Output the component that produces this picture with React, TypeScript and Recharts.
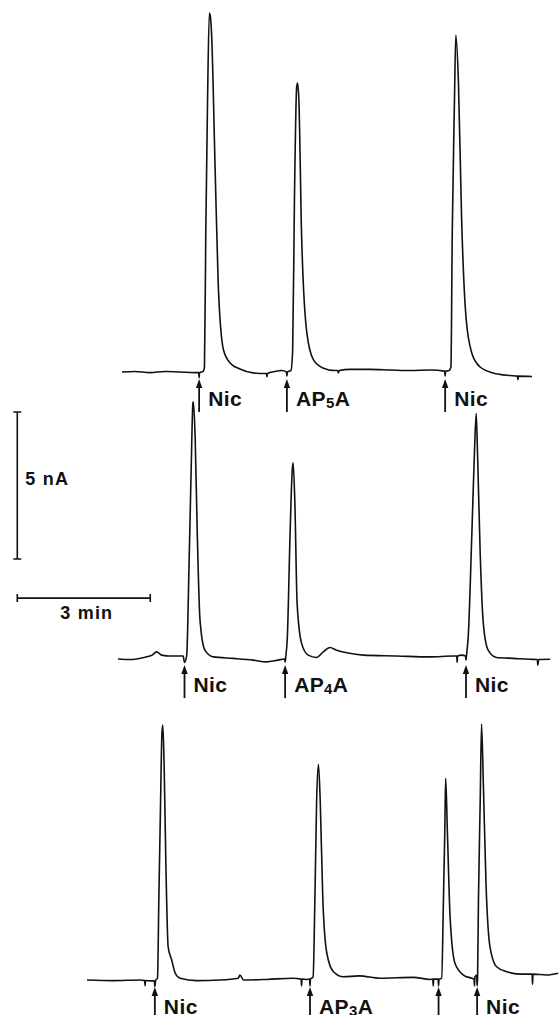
import { ComposedChart, Line, Scatter, XAxis, YAxis } from 'recharts';

const CHART_W = 559;
const CHART_H = 1015;
// recorder calibration: 3 min = 133 px, 5 nA = 147 px
const PX_PER_MIN = 44.33;
const PX_PER_NA = 29.4;

// trace 1: Nic, AP5A, Nic  (time in min from trace start, current in nA above baseline)
const trace1Time = [
  0, 0.29, 0.63, 0.97, 1.31, 1.65, 1.73, 1.74, 1.75, 1.83, 1.86, 1.89, 1.93, 1.97, 1.99, 2.02, 2.1, 2.17,
  2.29, 2.44, 2.66, 2.96, 3.23, 3.26, 3.27, 3.28, 3.45, 3.61, 3.71, 3.72, 3.73, 3.81, 3.85, 3.89, 3.94, 3.96,
  3.99, 4.05, 4.17, 4.32, 4.53, 4.81, 4.87, 4.88, 4.9, 5.14, 5.59, 6.05, 6.5, 6.95, 7.28, 7.29, 7.3, 7.38,
  7.42, 7.45, 7.5, 7.53, 7.59, 7.66, 7.76, 7.89, 8.08, 8.37, 8.75, 8.92, 8.93, 8.94, 9.25,
];
const trace1Current = [
  0, 0.02, -0.02, 0.02, 0, -0.02, -0.02, -0.19, -0.02, 0.02, 0.17, 4.73, 9.25, 12.21, 12.14, 11.53, 6.97, 3.03,
  0.75, 0.31, 0.1, -0.03, -0.05, -0.05, -0.17, -0.05, 0.02, 0.05, 0, -0.14, 0, 0.05, 0.75, 5.85, 9.69, 9.83,
  9.25, 4.73, 1.33, 0.41, 0.14, 0.05, 0.05, -0.03, 0.05, 0.09, 0.09, 0.07, 0.05, 0.07, 0.03, -0.14, 0.03, 0.05,
  0.17, 4.73, 9.25, 11.46, 9.83, 5.27, 1.87, 0.65, 0.17, -0.03, -0.12, -0.14, -0.26, -0.14, -0.15,
];
const trace1EventTime = [1.74, 3.72, 7.29];
const trace1EventLabel = ['Nic', 'AP5A', 'Nic'];

// trace 2: Nic, AP4A, Nic
const trace2Time = [
  0, 0.27, 0.61, 0.77, 0.87, 0.99, 1.17, 1.47, 1.5, 1.55, 1.6, 1.65, 1.69, 1.7, 1.74, 1.79, 1.85, 1.96, 2.15,
  2.6, 3.05, 3.35, 3.61, 3.76, 3.77, 3.78, 3.82, 3.88, 3.93, 3.95, 3.99, 4.04, 4.14, 4.29, 4.48, 4.63, 4.78,
  4.93, 5.16, 5.53, 6.29, 7.04, 7.56, 7.64, 7.65, 7.66, 7.75, 7.84, 7.85, 7.86, 7.9, 7.98, 8.04, 8.08, 8.11,
  8.17, 8.24, 8.35, 8.54, 8.92, 9.29, 9.46, 9.47, 9.49, 9.75,
];
const trace2Current = [
  -0.03, -0.05, 0.03, 0.1, 0.21, 0.1, 0.07, 0.07, -0.15, 0.1, 2.99, 6.39, 8.67, 8.72, 7.52, 4.12, 1.29, 0.27,
  0.04, -0.01, -0.07, -0.13, -0.07, -0.03, -0.14, -0.02, 0.72, 4.13, 6.39, 6.64, 5.27, 1.87, 0.51, 0.1, 0.02,
  0.21, 0.36, 0.27, 0.18, 0.1, 0.07, 0.04, 0.07, 0.07, -0.14, 0.07, 0.1, 0.07, -0.07, 0.07, 0.72, 4.13, 6.97,
  8.32, 6.97, 3.57, 1.19, 0.27, 0.02, -0.01, -0.04, -0.05, -0.24, -0.05, -0.04,
];
const trace2EventTime = [1.5, 3.77, 7.85];
const trace2EventLabel = ['Nic', 'AP4A', 'Nic'];

// trace 3: Nic, AP3A, (unlabelled), Nic
const trace3Time = [
  0, 0.59, 1.2, 1.3, 1.31, 1.32, 1.46, 1.52, 1.53, 1.55, 1.59, 1.62, 1.66, 1.69, 1.71, 1.74, 1.78, 1.83, 1.91,
  1.99, 2.1, 2.47, 3.0, 3.41, 3.45, 3.53, 4.05, 4.65, 4.83, 4.84, 4.85, 4.96, 5.02, 5.03, 5.04, 5.1, 5.14,
  5.18, 5.22, 5.26, 5.32, 5.41, 5.56, 5.78, 6.14, 6.61, 7.36, 7.74, 7.8, 7.81, 7.82, 7.92, 7.93, 7.94, 8.0,
  8.04, 8.07, 8.09, 8.13, 8.19, 8.3, 8.49, 8.68, 8.73, 8.74, 8.75, 8.79, 8.8, 8.81, 8.83, 8.87, 8.9, 8.94, 9.0,
  9.09, 9.24, 9.47, 9.77, 10.04, 10.05, 10.06, 10.37, 10.63,
];
const trace3Current = [
  0, -0.02, 0, -0.02, -0.19, -0.02, -0.03, -0.03, -0.22, 0, 0.06, 2.72, 6.12, 8.4, 8.67, 7.25, 3.85, 1.13, 0.68,
  0.23, 0.06, -0.02, 0, 0.06, 0.17, 0, 0.02, 0.06, 0.03, -0.2, 0.03, 0.02, 0.03, -0.2, 0.03, 0.11, 2.72, 6.12,
  7.34, 6.12, 2.72, 0.91, 0.28, 0.11, 0.14, 0.06, 0.09, 0.02, 0.03, -0.2, 0.03, 0.03, -0.2, 0.03, 0.06, 2.72,
  5.0, 6.86, 5.0, 2.15, 0.57, 0.17, 0.06, 0.03, -0.2, 0.1, 0.17, -0.2, 0.07, 2.72, 6.12, 8.71, 6.69, 3.29, 1.13,
  0.45, 0.28, 0.2, 0.2, -0.14, 0.2, 0.17, 0.23,
];
const trace3EventTime = [1.53, 5.03, 7.93, 8.8];
const trace3EventLabel = ['Nic', 'AP3A', '', 'Nic'];

// calibration bars
const scaleBarTime = 3; // min
const scaleBarCurrent = 5; // nA

// where each trace sits on the page (min from left edge, nA from bottom edge)
const traceOrigin = [
  { t: 2.752, i: 21.87 },
  { t: 2.662, i: 12.14 },
  { t: 1.963, i: 1.19 },
];
const scaleOrigin = { t: 0.39, vBottom: 15.51, hLevel: 14.18 };

const INK = '#111';
const FONT = '"Liberation Sans", Arial, Helvetica, sans-serif';

function buildTrace(time: number[], current: number[], k: number) {
  const o = traceOrigin[k];
  return time.map((t, j) => ({ x: o.t + t, y: o.i + current[j] }));
}

function buildEvents(time: number[], labels: string[], k: number) {
  const o = traceOrigin[k];
  return time.map((t, j) => ({ x: o.t + t, y: o.i, label: labels[j] }));
}

const traces = [
  buildTrace(trace1Time, trace1Current, 0),
  buildTrace(trace2Time, trace2Current, 1),
  buildTrace(trace3Time, trace3Current, 2),
];
const events = [
  ...buildEvents(trace1EventTime, trace1EventLabel, 0),
  ...buildEvents(trace2EventTime, trace2EventLabel, 1),
  ...buildEvents(trace3EventTime, trace3EventLabel, 2),
];

const capT = 4 / PX_PER_MIN;
const capI = 4 / PX_PER_NA;
const vBar = [
  { x: scaleOrigin.t - capT, y: scaleOrigin.vBottom },
  { x: scaleOrigin.t + capT, y: scaleOrigin.vBottom },
  { x: scaleOrigin.t, y: scaleOrigin.vBottom },
  { x: scaleOrigin.t, y: scaleOrigin.vBottom + scaleBarCurrent },
  { x: scaleOrigin.t - capT, y: scaleOrigin.vBottom + scaleBarCurrent },
  { x: scaleOrigin.t + capT, y: scaleOrigin.vBottom + scaleBarCurrent },
];
const hBar = [
  { x: scaleOrigin.t, y: scaleOrigin.hLevel - capI },
  { x: scaleOrigin.t, y: scaleOrigin.hLevel + capI },
  { x: scaleOrigin.t, y: scaleOrigin.hLevel },
  { x: scaleOrigin.t + scaleBarTime, y: scaleOrigin.hLevel },
  { x: scaleOrigin.t + scaleBarTime, y: scaleOrigin.hLevel - capI },
  { x: scaleOrigin.t + scaleBarTime, y: scaleOrigin.hLevel + capI },
];
const scaleLabels = [
  { x: scaleOrigin.t, y: scaleOrigin.vBottom + scaleBarCurrent / 2, label: `${scaleBarCurrent} nA`, kind: 'v' },
  { x: scaleOrigin.t + scaleBarTime / 2, y: scaleOrigin.hLevel, label: `${scaleBarTime} min`, kind: 'h' },
];

function LabelText({ text }: { text: string }) {
  const m = text.match(/^AP(\d)A$/);
  if (!m) return <>{text}</>;
  return (
    <>
      <tspan>AP</tspan>
      <tspan fontSize={15} dy={1.5}>{m[1]}</tspan>
      <tspan dy={-1.5}>A</tspan>
    </>
  );
}

function EventMarker(props: any) {
  const { cx, cy, payload } = props;
  const head = cy + 7;
  return (
    <g>
      <line x1={cx} y1={head + 6} x2={cx} y2={cy + 40} stroke={INK} strokeWidth={1.8} />
      <polygon points={`${cx},${head} ${cx - 3.2},${head + 9} ${cx + 3.2},${head + 9}`} fill={INK} />
      {payload.label ? (
        <text x={cx + 9} y={cy + 34} fontFamily={FONT} fontSize={21} fontWeight={700} fill={INK} letterSpacing={0.4}>
          <LabelText text={payload.label} />
        </text>
      ) : null}
    </g>
  );
}

function ScaleLabel(props: any) {
  const { cx, cy, payload } = props;
  const common = { fontFamily: FONT, fontSize: 18, fontWeight: 700, fill: INK, letterSpacing: 1.2 };
  if (payload.kind === 'v') {
    return <text x={cx + 8} y={cy - 1} {...common}>{payload.label}</text>;
  }
  return <text x={cx + 3} y={cy + 21} textAnchor="middle" {...common}>{payload.label}</text>;
}

export default function App() {
  return (
    <div style={{ position: 'absolute', left: 0, top: 0, width: CHART_W, height: CHART_H, background: '#fff' }}>
      <ComposedChart width={CHART_W} height={CHART_H} margin={{ top: 0, right: 0, bottom: 0, left: 0 }}>
        <XAxis hide type="number" dataKey="x" domain={[0, CHART_W / PX_PER_MIN]} allowDataOverflow />
        <YAxis hide type="number" dataKey="y" domain={[0, CHART_H / PX_PER_NA]} allowDataOverflow />
        {traces.map((d, k) => (
          <Line
            key={k}
            data={d}
            dataKey="y"
            type="monotoneX"
            stroke={INK}
            strokeWidth={1.6}
            strokeLinejoin="round"
            dot={false}
            activeDot={false}
            isAnimationActive={false}
          />
        ))}
        <Line data={vBar} dataKey="y" stroke={INK} strokeWidth={1.6} dot={false} activeDot={false} isAnimationActive={false} />
        <Line data={hBar} dataKey="y" stroke={INK} strokeWidth={1.6} dot={false} activeDot={false} isAnimationActive={false} />
        <Scatter data={events} dataKey="y" shape={EventMarker} isAnimationActive={false} />
        <Scatter data={scaleLabels} dataKey="y" shape={ScaleLabel} isAnimationActive={false} />
      </ComposedChart>
    </div>
  );
}
